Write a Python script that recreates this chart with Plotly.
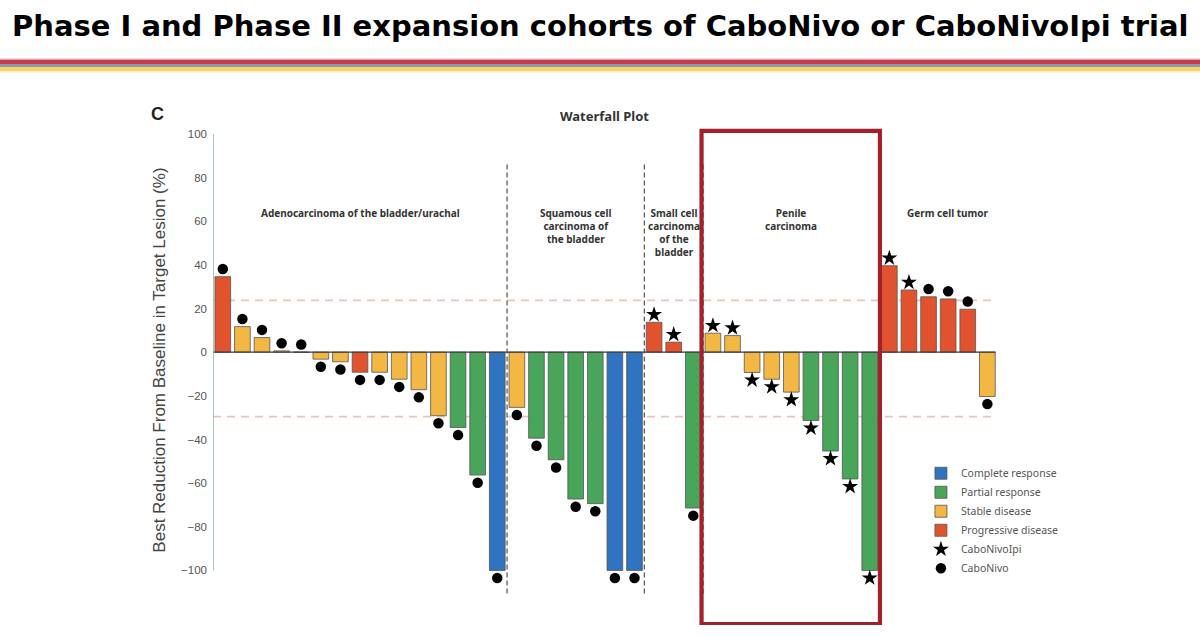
import plotly.graph_objects as go

# ---------------- data ----------------
values = [34.6, 11.7, 6.7, 0.6, 0.0, -3.2, -4.4, -9.2, -9.2, -12.4, -17.2, -29.1, -34.5, -56.3, -100,
          -25.3, -39.4, -49.3, -67.3, -69.4, -100, -100,
          13.7, 4.6, -71.4,
          8.7, 7.6, -9.3, -12.4, -18.3, -31.3, -45.3, -58.1, -100,
          39.6, 28.5, 25.4, 24.4, 19.7, -20.3]

responses = ["PD", "SD", "SD", "SD", "SD", "SD", "SD", "PD", "SD", "SD", "SD", "SD", "PR", "PR", "CR",
             "SD", "PR", "PR", "PR", "PR", "CR", "CR",
             "PD", "PD", "PR",
             "SD", "SD", "SD", "SD", "SD", "PR", "PR", "PR", "PR",
             "PD", "PD", "PD", "PD", "PD", "SD"]

cohorts = ["CaboNivo"] * 15 + ["CaboNivo"] * 7 + ["CaboNivoIpi", "CaboNivoIpi", "CaboNivo"] + \
          ["CaboNivoIpi"] * 9 + ["CaboNivoIpi", "CaboNivoIpi", "CaboNivo", "CaboNivo", "CaboNivo", "CaboNivo"]

group_names = ["Adenocarcinoma of the bladder/urachal",
               "Squamous cell<br>carcinoma of<br>the bladder",
               "Small cell<br>carcinoma<br>of the<br>bladder",
               "Penile<br>carcinoma",
               "Germ cell tumor"]
group_sizes = [15, 7, 3, 9, 6]

response_codes = ["CR", "PR", "SD", "PD"]
response_labels = ["Complete response", "Partial response", "Stable disease", "Progressive disease"]
response_colors = ["#2f73c1", "#48a55a", "#f3b843", "#e1532f"]

y_ticks = [100, 80, 60, 40, 20, 0, -20, -40, -60, -80, -100]
thresholds = [23.7, -29.5]

title_text = "Phase I and Phase II expansion cohorts of CaboNivo or CaboNivoIpi trial"
chart_title = "Waterfall Plot"
y_title = "Best Reduction From Baseline in Target Lesion (%)"

# ---------------- layout geometry ----------------
W, H = 1200, 636
L, R, T, B = 213.2, 1154.0, 122.9, 625.4


def px2x(p):
    return (p - L) / (R - L)


def py2y(p):
    return (B - p) / (B - T)


positions = list(range(1, len(values) + 1))
n = len(values)

fig = go.Figure()

# bars, one trace per response category
for code, label, color in zip(response_codes, response_labels, response_colors):
    xs = [p for p, r in zip(positions, responses) if r == code]
    ys = [v for v, r in zip(values, responses) if r == code]
    fig.add_trace(go.Bar(x=xs, y=ys, name=label, width=0.8,
                         marker=dict(color=color, line=dict(color="#555555", width=0.8))))

# cohort markers
marker_off = 3.5
for coh, sym, size, name in [("CaboNivoIpi", "star", 12, "CaboNivoIpi"),
                             ("CaboNivo", "circle", 10.5, "CaboNivo")]:
    xs = [p for p, c in zip(positions, cohorts) if c == coh]
    ys = [v + (marker_off if v >= 0 else -marker_off) for v, c in zip(values, cohorts) if c == coh]
    fig.add_trace(go.Scatter(x=xs, y=ys, mode="markers", name=name,
                             marker=dict(symbol=sym, size=size, color="black", line=dict(width=0))))

shapes = []
# header stripes
stripes = [(58.3, 59.5, "#eab2b8"), (59.5, 63.8, "#c63c4b"), (63.8, 66.8, "#8a99a9"),
           (66.8, 71.2, "#f8d264"), (71.2, 72.3, "#fcecc0")]
for y0, y1, c in stripes:
    shapes.append(dict(type="rect", xref="paper", yref="paper", x0=px2x(0), x1=px2x(W),
                       y0=py2y(y1), y1=py2y(y0), fillcolor=c, line=dict(width=0), layer="above"))

x_end = n + 0.42
# threshold lines
for t in thresholds:
    shapes.append(dict(type="line", xref="x", yref="y", x0=0.5, x1=x_end, y0=t, y1=t,
                       line=dict(color="#e8c6be", width=1.8, dash="8px,6px"), layer="below"))

# group separators
bounds = []
acc = 0
for s in group_sizes[:-1]:
    acc += s
    bounds.append(acc + 0.5)
sep_colors = ["#444444", "#444444", "#444444", "#b5b5b5"]
for b, c in zip(bounds, sep_colors):
    shapes.append(dict(type="line", xref="x", yref="y", x0=b, x1=b, y0=86, y1=-111,
                       line=dict(color=c, width=1.1, dash="5px,3px"), layer="above"))

# zero line
shapes.append(dict(type="line", xref="x", yref="y", x0=0.5, x1=x_end, y0=0, y1=0,
                   line=dict(color="#3a3a3a", width=1.4), layer="above"))
# y axis line
shapes.append(dict(type="line", xref="x", yref="y", x0=0.5, x1=0.5, y0=-100, y1=100,
                   line=dict(color="#8db898", width=1.5), layer="above"))

# highlight box around penile carcinoma
shapes.append(dict(type="rect", xref="x", yref="y", x0=bounds[2] - 0.08, x1=bounds[3] + 0.02,
                   y0=-124.6, y1=101.4, line=dict(color="#a3212d", width=4.2), layer="above"))

annotations = []
annotations.append(dict(text="<b>" + title_text + "</b>", xref="paper", yref="paper",
                        x=px2x(600), y=py2y(26), xanchor="center", yanchor="middle", showarrow=False,
                        font=dict(family="DejaVu Sans, sans-serif", size=29, color="black")))
annotations.append(dict(text="<b>C</b>", xref="paper", yref="paper", x=px2x(158), y=py2y(114),
                        xanchor="center", yanchor="middle", showarrow=False,
                        font=dict(family="Liberation Sans, Arial", size=18, color="#222")))
annotations.append(dict(text="<b>" + chart_title + "</b>", xref="paper", yref="paper",
                        x=px2x(605), y=py2y(116), xanchor="center", yanchor="middle", showarrow=False,
                        font=dict(family="Noto Sans, sans-serif", size=13, color="#333")))
annotations.append(dict(text=y_title, xref="paper", yref="paper", x=px2x(160), y=py2y(360),
                        xanchor="center", yanchor="middle", textangle=-90, showarrow=False,
                        font=dict(family="Liberation Sans, Arial", size=17, color="#444")))

label_centers = [8, 19, 24, 30, 38]
for name, cx in zip(group_names, label_centers):
    annotations.append(dict(text="<b>" + name + "</b>", xref="x", yref="y", x=cx, y=68,
                            xanchor="center", yanchor="top", showarrow=False, align="center",
                            font=dict(family="Noto Sans, sans-serif", size=10, color="#333")))

fig.update_layout(
    width=W, height=H,
    margin=dict(l=L, r=W - R, t=T, b=H - B, autoexpand=False),
    paper_bgcolor="white", plot_bgcolor="white",
    barmode="overlay",
    showlegend=True,
    legend=dict(x=px2x(921), y=py2y(459), xanchor="left", yanchor="top",
                font=dict(family="Noto Sans, sans-serif", size=10.5, color="#555"),
                bgcolor="rgba(0,0,0,0)", traceorder="normal", tracegroupgap=0),
    xaxis=dict(range=[0.5, 48.5], visible=False),
    yaxis=dict(range=[-125, 105], tickvals=y_ticks, showgrid=False, zeroline=False,
               showline=False, ticks="", ticklabelstandoff=5,
               tickfont=dict(family="Liberation Sans, Arial", size=11.5, color="#555")),
    shapes=shapes,
    annotations=annotations,
)

fig.write_html("out.html")
